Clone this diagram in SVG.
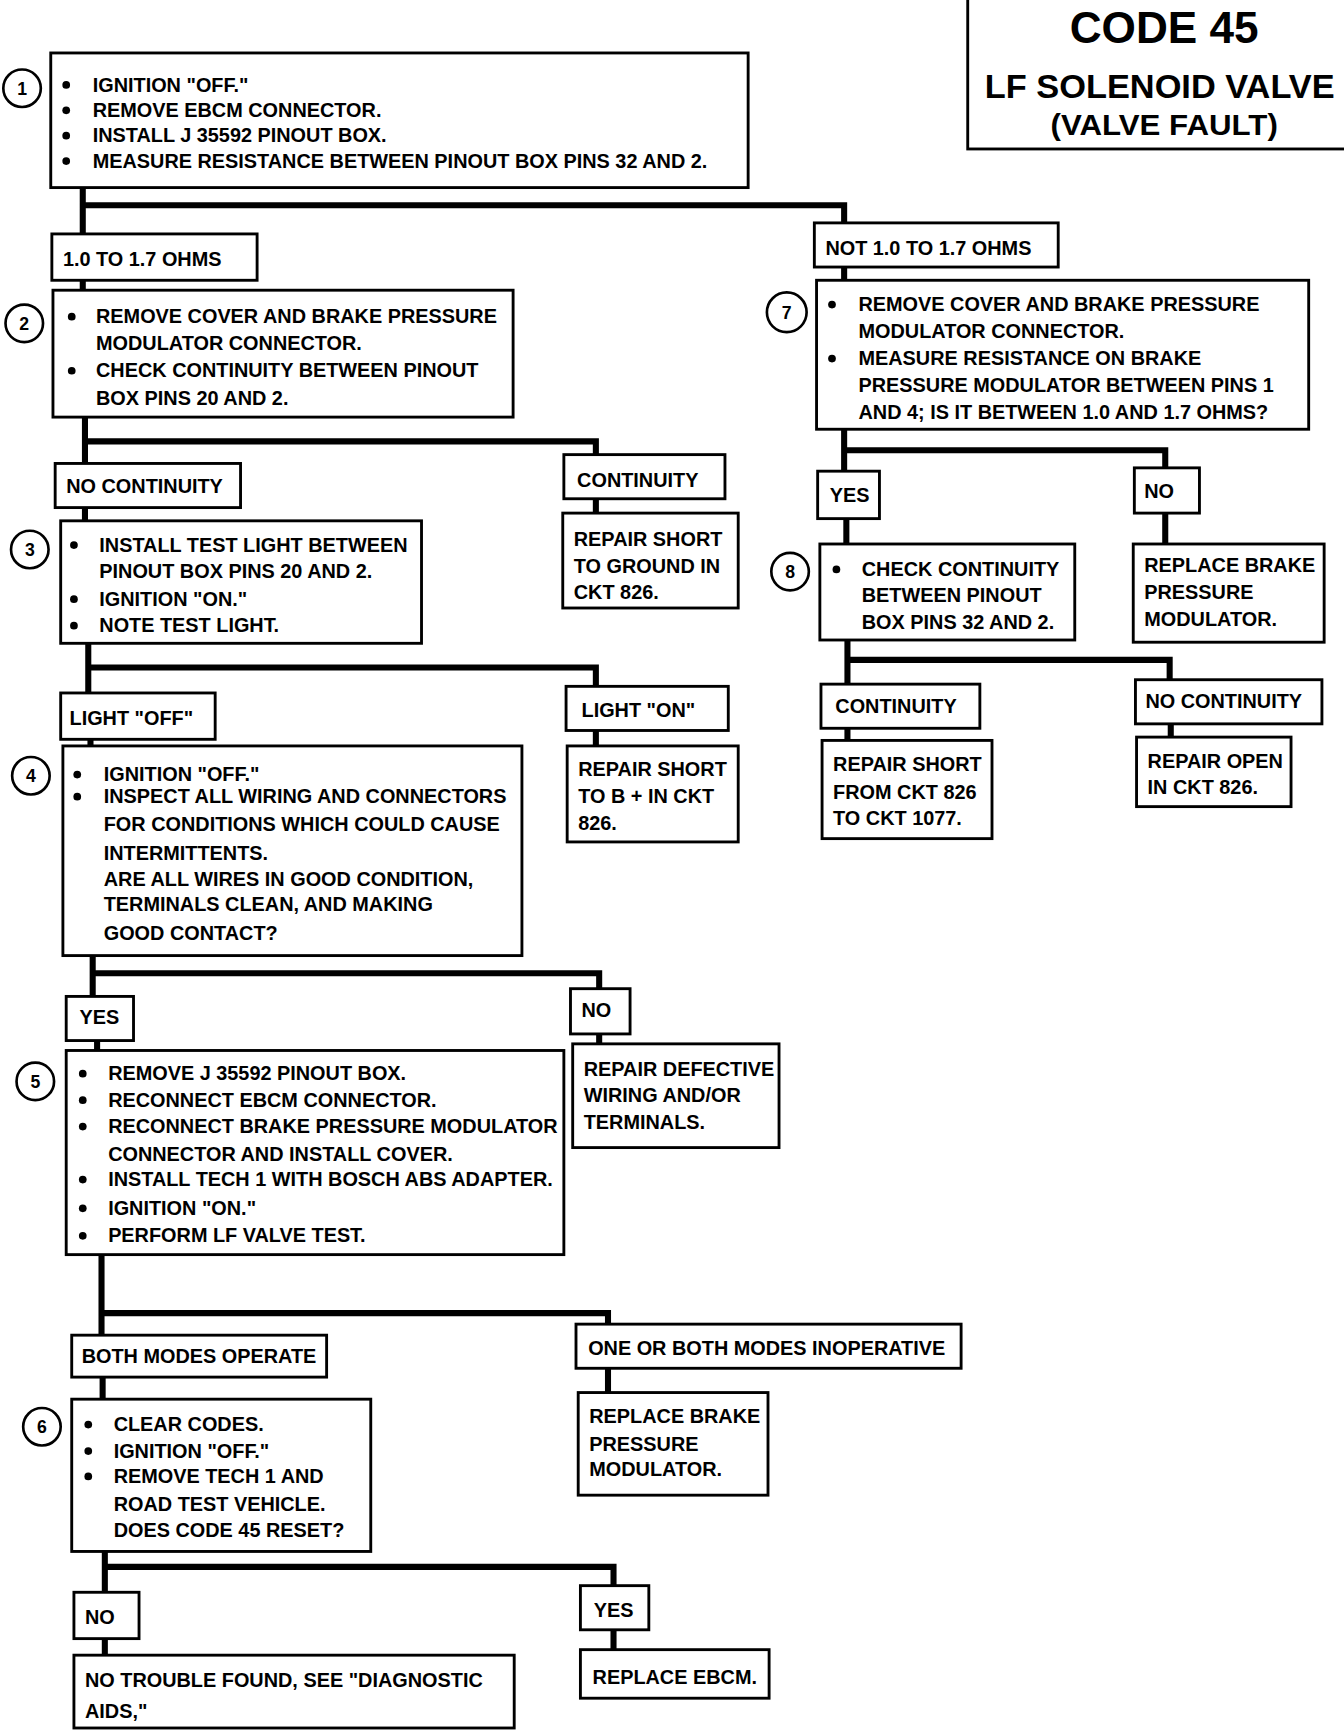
<svg xmlns="http://www.w3.org/2000/svg" width="1344" height="1730" viewBox="0 0 1344 1730">
<style>
.bx{fill:#fff;stroke:#000;stroke-width:2.6}
.cn{fill:none;stroke:#000;stroke-width:5.5;stroke-linejoin:miter;stroke-linecap:square}
.t{font-family:"Liberation Sans",Arial,sans-serif;font-weight:bold;font-size:18px;fill:#000}
.ci{fill:#fff;stroke:#000;stroke-width:2.4}
.nm{font-family:"Liberation Sans",Arial,sans-serif;font-weight:bold;font-size:16px;text-anchor:middle;fill:#000}
.bu{fill:#000}
.ti{font-family:"Liberation Sans",Arial,sans-serif;font-weight:bold;text-anchor:middle;fill:#000}
</style>
<rect width="1344" height="1730" fill="#fff"/>
<g transform="scale(1.10345)">
<g id="connectors">
<path class="cn" d="M75,170 V212 M75,186 H765 V202 M75,254 V264 M765,242 V254"/>
<path class="cn" d="M77,378 V420 M77,400 H540 V412 M540,452 V465 M77,460 V472"/>
<path class="cn" d="M80,583 V628 M80,605 H540 V622 M540,662 V676 M82,670 V676"/>
<path class="cn" d="M84,866 V903 M84,882 H543 V896 M543,937 V946 M88,943 V952"/>
<path class="cn" d="M92,1137 V1210 M92,1190 H551 V1200 M551,1240 V1262 M93,1248 V1268"/>
<path class="cn" d="M95,1406 V1443 M95,1420 H556 V1437 M556,1477 V1495 M95,1485 V1500"/>
<path class="cn" d="M765,389 V427 M765,408 H1056 V424 M1056,465 V493 M767,470 V493"/>
<path class="cn" d="M768,580 V620 M768,598 H1060 V616 M768,660 V671 M1061,656 V668"/>
</g>

<g id="title">
<rect class="bx" x="877" y="-10" width="360" height="145"/>
<text class="ti" x="1055" y="39" font-size="40">CODE 45</text>
<text class="ti" x="1051" y="89" font-size="30" textLength="317" lengthAdjust="spacingAndGlyphs">LF SOLENOID VALVE</text>
<text class="ti" x="1055" y="122" font-size="27" textLength="206" lengthAdjust="spacingAndGlyphs">(VALVE FAULT)</text>
</g>

<g id="n1">
<circle class="ci" cx="20" cy="80" r="17"/><text class="nm" x="20" y="86">1</text>
<rect class="bx" x="46" y="48" width="632" height="122"/>
<circle class="bu" cx="60" cy="77" r="3.5"/><circle class="bu" cx="60" cy="100" r="3.5"/><circle class="bu" cx="60" cy="123" r="3.5"/><circle class="bu" cx="60" cy="146" r="3.5"/>
<text class="t" x="84" y="83">IGNITION "OFF."</text>
<text class="t" x="84" y="106">REMOVE EBCM CONNECTOR.</text>
<text class="t" x="84" y="129">INSTALL J 35592 PINOUT BOX.</text>
<text class="t" x="84" y="152">MEASURE RESISTANCE BETWEEN PINOUT BOX PINS 32 AND 2.</text>
</g>

<g id="l-1to17">
<rect class="bx" x="47" y="212" width="186" height="42"/>
<text class="t" x="57" y="241">1.0 TO 1.7 OHMS</text>
</g>
<g id="l-not1to17">
<rect class="bx" x="738" y="202" width="221" height="40"/>
<text class="t" x="748" y="231">NOT 1.0 TO 1.7 OHMS</text>
</g>

<g id="n2">
<circle class="ci" cx="22" cy="293" r="17"/><text class="nm" x="22" y="299">2</text>
<rect class="bx" x="48" y="263" width="417" height="115"/>
<circle class="bu" cx="65" cy="287" r="3.5"/><circle class="bu" cx="65" cy="336" r="3.5"/>
<text class="t" x="87" y="293">REMOVE COVER AND BRAKE PRESSURE</text>
<text class="t" x="87" y="317">MODULATOR CONNECTOR.</text>
<text class="t" x="87" y="342">CHECK CONTINUITY BETWEEN PINOUT</text>
<text class="t" x="87" y="367">BOX PINS 20 AND 2.</text>
</g>

<g id="l2-nocont">
<rect class="bx" x="50" y="420" width="168" height="40"/>
<text class="t" x="60" y="447">NO CONTINUITY</text>
</g>
<g id="l2-cont">
<rect class="bx" x="511" y="412" width="146" height="40"/>
<text class="t" x="523" y="441">CONTINUITY</text>
</g>
<g id="r-ground">
<rect class="bx" x="510" y="465" width="159" height="86"/>
<text class="t" x="520" y="495">REPAIR SHORT</text>
<text class="t" x="520" y="519">TO GROUND IN</text>
<text class="t" x="520" y="543">CKT 826.</text>
</g>

<g id="n3">
<circle class="ci" cx="27" cy="498" r="17"/><text class="nm" x="27" y="504">3</text>
<rect class="bx" x="55" y="472" width="327" height="111"/>
<circle class="bu" cx="67" cy="494" r="3.5"/><circle class="bu" cx="67" cy="543" r="3.5"/><circle class="bu" cx="67" cy="567" r="3.5"/>
<text class="t" x="90" y="500">INSTALL TEST LIGHT BETWEEN</text>
<text class="t" x="90" y="524">PINOUT BOX PINS 20 AND 2.</text>
<text class="t" x="90" y="549">IGNITION "ON."</text>
<text class="t" x="90" y="573">NOTE TEST LIGHT.</text>
</g>

<g id="l3-off">
<rect class="bx" x="55" y="628" width="140" height="42"/>
<text class="t" x="63" y="657">LIGHT "OFF"</text>
</g>
<g id="l3-on">
<rect class="bx" x="513" y="622" width="147" height="40"/>
<text class="t" x="527" y="650">LIGHT "ON"</text>
</g>
<g id="r-bplus">
<rect class="bx" x="514" y="676" width="155" height="87"/>
<text class="t" x="524" y="703">REPAIR SHORT</text>
<text class="t" x="524" y="728">TO B + IN CKT</text>
<text class="t" x="524" y="752">826.</text>
</g>

<g id="n4">
<circle class="ci" cx="28" cy="703" r="17"/><text class="nm" x="28" y="709">4</text>
<rect class="bx" x="57" y="676" width="416" height="190"/>
<circle class="bu" cx="70" cy="702" r="3.5"/><circle class="bu" cx="70" cy="722" r="3.5"/>
<text class="t" x="94" y="708">IGNITION "OFF."</text>
<text class="t" x="94" y="728">INSPECT ALL WIRING AND CONNECTORS</text>
<text class="t" x="94" y="753">FOR CONDITIONS WHICH COULD CAUSE</text>
<text class="t" x="94" y="779">INTERMITTENTS.</text>
<text class="t" x="94" y="803">ARE ALL WIRES IN GOOD CONDITION,</text>
<text class="t" x="94" y="826">TERMINALS CLEAN,  AND MAKING</text>
<text class="t" x="94" y="852">GOOD CONTACT?</text>
</g>

<g id="l4-yes">
<rect class="bx" x="60" y="903" width="61" height="40"/>
<text class="t" x="72" y="928">YES</text>
</g>
<g id="l4-no">
<rect class="bx" x="517" y="896" width="54" height="41"/>
<text class="t" x="527" y="922">NO</text>
</g>
<g id="r-wiring">
<rect class="bx" x="519" y="946" width="187" height="94"/>
<text class="t" x="529" y="975">REPAIR DEFECTIVE</text>
<text class="t" x="529" y="999">WIRING AND/OR</text>
<text class="t" x="529" y="1023">TERMINALS.</text>
</g>

<g id="n5">
<circle class="ci" cx="32" cy="980" r="17"/><text class="nm" x="32" y="986">5</text>
<rect class="bx" x="60" y="952" width="451" height="185"/>
<circle class="bu" cx="75" cy="973" r="3.5"/><circle class="bu" cx="75" cy="997" r="3.5"/><circle class="bu" cx="75" cy="1021" r="3.5"/><circle class="bu" cx="75" cy="1069" r="3.5"/><circle class="bu" cx="75" cy="1095" r="3.5"/><circle class="bu" cx="75" cy="1120" r="3.5"/>
<text class="t" x="98" y="979">REMOVE J 35592 PINOUT BOX.</text>
<text class="t" x="98" y="1003">RECONNECT EBCM CONNECTOR.</text>
<text class="t" x="98" y="1027">RECONNECT BRAKE PRESSURE MODULATOR</text>
<text class="t" x="98" y="1052">CONNECTOR AND INSTALL COVER.</text>
<text class="t" x="98" y="1075">INSTALL TECH 1 WITH BOSCH ABS ADAPTER.</text>
<text class="t" x="98" y="1101">IGNITION "ON."</text>
<text class="t" x="98" y="1126">PERFORM LF VALVE TEST.</text>
</g>

<g id="l5-both">
<rect class="bx" x="65" y="1210" width="231" height="38"/>
<text class="t" x="74" y="1235">BOTH MODES OPERATE</text>
</g>
<g id="l5-one">
<rect class="bx" x="522" y="1200" width="349" height="40"/>
<text class="t" x="533" y="1228">ONE OR BOTH MODES INOPERATIVE</text>
</g>
<g id="r-modulator2">
<rect class="bx" x="524" y="1262" width="172" height="93"/>
<text class="t" x="534" y="1290">REPLACE BRAKE</text>
<text class="t" x="534" y="1315">PRESSURE</text>
<text class="t" x="534" y="1338">MODULATOR.</text>
</g>

<g id="n6">
<circle class="ci" cx="38" cy="1293" r="17"/><text class="nm" x="38" y="1299">6</text>
<rect class="bx" x="65" y="1268" width="271" height="138"/>
<circle class="bu" cx="80" cy="1291" r="3.5"/><circle class="bu" cx="80" cy="1315" r="3.5"/><circle class="bu" cx="80" cy="1338" r="3.5"/>
<text class="t" x="103" y="1297">CLEAR CODES.</text>
<text class="t" x="103" y="1321">IGNITION "OFF."</text>
<text class="t" x="103" y="1344">REMOVE TECH 1 AND</text>
<text class="t" x="103" y="1369">ROAD TEST VEHICLE.</text>
<text class="t" x="103" y="1393">DOES CODE 45 RESET?</text>
</g>

<g id="l6-no">
<rect class="bx" x="67" y="1443" width="59" height="42"/>
<text class="t" x="77" y="1472">NO</text>
</g>
<g id="l6-yes">
<rect class="bx" x="526" y="1437" width="62" height="40"/>
<text class="t" x="538" y="1465">YES</text>
</g>
<g id="r-ebcm">
<rect class="bx" x="526" y="1495" width="171" height="44"/>
<text class="t" x="537" y="1526">REPLACE EBCM.</text>
</g>
<g id="r-ntf">
<rect class="bx" x="67" y="1500" width="399" height="66"/>
<text class="t" x="77" y="1529">NO TROUBLE FOUND, SEE "DIAGNOSTIC</text>
<text class="t" x="77" y="1557">AIDS,"</text>
</g>

<g id="n7">
<circle class="ci" cx="713" cy="283" r="18"/><text class="nm" x="713" y="289">7</text>
<rect class="bx" x="740" y="254" width="446" height="135"/>
<circle class="bu" cx="754" cy="276" r="3.5"/><circle class="bu" cx="754" cy="325" r="3.5"/>
<text class="t" x="778" y="282">REMOVE COVER AND BRAKE PRESSURE</text>
<text class="t" x="778" y="306">MODULATOR CONNECTOR.</text>
<text class="t" x="778" y="331">MEASURE RESISTANCE ON BRAKE</text>
<text class="t" x="778" y="355">PRESSURE MODULATOR BETWEEN PINS 1</text>
<text class="t" x="778" y="380">AND  4; IS IT BETWEEN 1.0 AND 1.7 OHMS?</text>
</g>

<g id="l7-yes">
<rect class="bx" x="741" y="427" width="56" height="43"/>
<text class="t" x="752" y="455">YES</text>
</g>
<g id="l7-no">
<rect class="bx" x="1028" y="424" width="59" height="41"/>
<text class="t" x="1037" y="451">NO</text>
</g>
<g id="r-modulator1">
<rect class="bx" x="1027" y="493" width="173" height="89"/>
<text class="t" x="1037" y="518">REPLACE BRAKE</text>
<text class="t" x="1037" y="543">PRESSURE</text>
<text class="t" x="1037" y="567">MODULATOR.</text>
</g>

<g id="n8">
<circle class="ci" cx="716" cy="518" r="17"/><text class="nm" x="716" y="524">8</text>
<rect class="bx" x="743" y="493" width="231" height="87"/>
<circle class="bu" cx="758" cy="516" r="3.5"/>
<text class="t" x="781" y="522">CHECK CONTINUITY</text>
<text class="t" x="781" y="546">BETWEEN PINOUT</text>
<text class="t" x="781" y="570">BOX PINS 32 AND 2.</text>
</g>

<g id="l8-cont">
<rect class="bx" x="744" y="620" width="144" height="40"/>
<text class="t" x="757" y="646">CONTINUITY</text>
</g>
<g id="l8-nocont">
<rect class="bx" x="1029" y="616" width="169" height="40"/>
<text class="t" x="1038" y="642">NO CONTINUITY</text>
</g>
<g id="r-short1077">
<rect class="bx" x="745" y="671" width="154" height="89"/>
<text class="t" x="755" y="699">REPAIR SHORT</text>
<text class="t" x="755" y="724">FROM CKT 826</text>
<text class="t" x="755" y="748">TO CKT 1077.</text>
</g>
<g id="r-open">
<rect class="bx" x="1030" y="668" width="140" height="63"/>
<text class="t" x="1040" y="696">REPAIR OPEN</text>
<text class="t" x="1040" y="720">IN CKT 826.</text>
</g>
</g>
</svg>
